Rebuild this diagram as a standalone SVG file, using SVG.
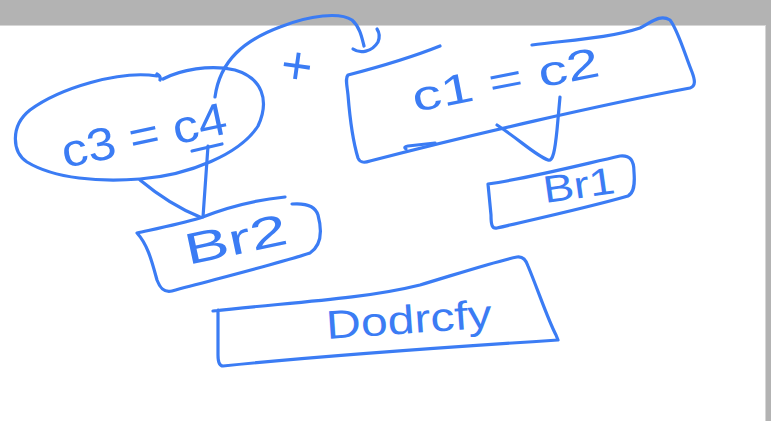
<svg xmlns="http://www.w3.org/2000/svg" width="771" height="421" viewBox="0 0 771 421">
  <style>
    .ink { fill: none; stroke: #3b7cf4; stroke-width: 3.2; stroke-linecap: round; stroke-linejoin: round; }
    .hand { fill: #3b7cf4; font-family: "Liberation Sans", "DejaVu Sans", sans-serif; }
  </style>
  <rect x="0" y="0" width="771" height="421" fill="#ffffff"/>
  <g id="frame">
    <rect x="0" y="0" width="771" height="25" fill="#b3b3b3"/>
    <rect x="766" y="25" width="5" height="396" fill="#b3b3b3"/>
    <line x1="0" y1="25.5" x2="766" y2="25.5" stroke="#d6d6d6" stroke-width="1"/>
    <line x1="765.5" y1="25" x2="765.5" y2="421" stroke="#d6d6d6" stroke-width="1"/>
  </g>

  <g id="node-c3c4">
    <path class="ink" d="M157,74 Q161,76 160,80 M157,76 C 120,70 60,88 30,110 C 10,126 12,152 27,162 C 55,179 100,182 140,179 C 190,175 240,154 258,126 C 270,100 262,78 235,70 C 210,64 180,70 163,79"/>
    <text class="hand" x="65" y="168" font-size="46" textLength="168" lengthAdjust="spacingAndGlyphs" transform="rotate(-12 65 168)">c3 = c4</text>
  </g>

  <g id="node-c1c2">
    <path class="ink" d="M440,46 C 410,58 375,68 348,75 C 345,78 347,85 348,95 C 350,120 354,145 358,158 C 360,163 364,163 370,161 C 470,135 600,105 690,88 C 696,86 695,80 692,72 C 685,55 678,30 670,20 C 660,14 652,22 640,28 C 610,38 570,40 532,45"/>
    <path class="ink" d="M406,149 Q403,147 408,146 L435,143"/>
    <text class="hand" x="415" y="112" font-size="42" textLength="190" lengthAdjust="spacingAndGlyphs" transform="rotate(-11 415 112)">c1 = c2</text>
  </g>

  <g id="node-br1">
    <path class="ink" d="M488,184 C 530,178 580,165 620,156 C 630,155 634,160 634,172 C 635,185 634,193 628,196 C 590,207 540,218 497,228 C 492,229 491,225 491,215 C 490,205 489,195 488,184 Z"/>
    <text class="hand" x="545" y="203" font-size="38" textLength="72" lengthAdjust="spacingAndGlyphs" transform="rotate(-8 545 203)">Br1</text>
  </g>

  <g id="node-br2">
    <path class="ink" d="M285,197 C 255,200 225,208 200,218 C 180,224 155,229 137,233 C 148,245 152,262 157,280 C 160,288 164,293 172,291 C 220,278 280,263 310,253 C 322,245 322,230 318,215 C 315,205 305,203 292,204"/>
    <text class="hand" x="188" y="265" font-size="44" textLength="104" lengthAdjust="spacingAndGlyphs" transform="rotate(-12 188 265)">Br2</text>
  </g>

  <g id="node-doctor">
    <path class="ink" d="M213,311 C 280,303 360,300 420,285 C 460,273 500,260 517,257 C 523,256 526,260 528,266 C 538,290 548,320 556,335 L558,340 C 480,345 330,355 223,366 C 219,366 218,362 218,355 C 218,340 218,325 218,310"/>
    <text class="hand" x="327" y="339" font-size="40" textLength="166" lengthAdjust="spacingAndGlyphs" transform="rotate(-4 327 339)">Dodrcfy</text>
  </g>

  <g id="operator-cross">
    <text class="hand" x="297" y="84" font-size="54" text-anchor="middle" transform="rotate(8 297 65)">+</text>
  </g>

  <g id="connectors">
    <path class="ink" d="M140,180 Q170,205 200,217"/>
    <path class="ink" d="M208,146 L203,217"/>
    <path class="ink" d="M192,151 L222,144"/>
    <path class="ink" d="M497,125 C 520,140 535,155 548,160 C 553,162 555,150 557,130 L560,97"/>
    <path class="ink" d="M215,97 C 220,60 245,40 280,27 C 310,15 340,12 352,20 C 360,27 362,38 364,46"/>
    <path class="ink" d="M353,49 C 360,54 372,52 378,42 C 380,37 379,32 377,29"/>
  </g>
</svg>
